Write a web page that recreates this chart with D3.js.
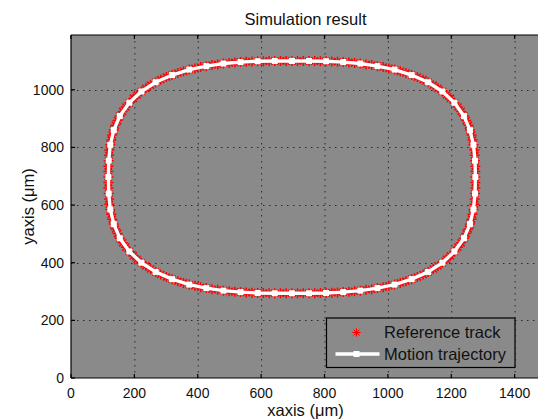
<!DOCTYPE html>
<html>
<head>
<meta charset="utf-8">
<script src="https://cdn.jsdelivr.net/npm/d3@7"></script>
<style>
  body { margin: 0; background: #fff; }
  text { font-family: "Liberation Sans", Arial, Helvetica, sans-serif; fill: #111; }
</style>
</head>
<body>
<svg id="chart" width="538" height="420"></svg>
<script>
// reference track (red asterisks), in um, clockwise from the top
let refX = [697, 715, 733, 751, 769, 787, 805, 823, 841, 859, 877, 895, 913, 931, 949, 967, 985, 1003, 1021, 1039, 1057, 1075, 1093, 1111, 1127, 1143, 1158, 1172, 1185, 1197, 1210, 1221, 1231, 1240, 1247, 1254, 1259, 1264, 1267, 1270, 1273, 1274, 1275, 1276, 1276,
    1276, 1276, 1276, 1275, 1274, 1273, 1270, 1267, 1264, 1259, 1254, 1247, 1240, 1231, 1221, 1210, 1197, 1185, 1172, 1158, 1143, 1127, 1111, 1093, 1075, 1057, 1039, 1021, 1003, 985, 967, 949, 931, 913, 895, 877, 859, 841, 823, 805, 787, 769, 751, 733, 715,
    697, 679, 661, 643, 625, 607, 589, 571, 553, 535, 517, 499, 481, 463, 445, 427, 409, 391, 373, 355, 337, 319, 301, 283, 267, 251, 236, 222, 209, 197, 184, 173, 163, 154, 147, 140, 135, 130, 127, 124, 121, 120, 119, 118, 118,
    118, 118, 118, 119, 120, 121, 124, 127, 130, 135, 140, 147, 154, 163, 173, 184, 197, 209, 222, 236, 251, 267, 283, 301, 319, 337, 355, 373, 391, 409, 427, 445, 463, 481, 499, 517, 535, 553, 571, 589, 607, 625, 643, 661, 679]
let refY = [1100, 1100, 1100, 1100, 1100, 1099, 1099, 1098, 1097, 1096, 1095, 1093, 1091, 1088, 1086, 1082, 1079, 1074, 1070, 1064, 1058, 1051, 1044, 1035, 1026, 1016, 1005, 994, 982, 970, 955, 940, 925, 909, 893, 877, 860, 843, 826, 809, 791, 773, 754, 735, 716,
    697, 678, 659, 640, 621, 603, 585, 568, 551, 534, 517, 501, 485, 469, 454, 439, 424, 412, 400, 389, 378, 368, 359, 350, 343, 336, 330, 324, 320, 315, 312, 308, 306, 303, 301, 299, 298, 297, 296, 295, 295, 294, 294, 294, 294,
    294, 294, 294, 294, 294, 295, 295, 296, 297, 298, 299, 301, 303, 306, 308, 312, 315, 320, 324, 330, 336, 343, 350, 359, 368, 378, 389, 400, 412, 424, 439, 454, 469, 485, 501, 517, 534, 551, 568, 585, 603, 621, 640, 659, 678,
    697, 716, 735, 754, 773, 791, 809, 826, 843, 860, 877, 893, 909, 925, 940, 955, 970, 982, 994, 1005, 1016, 1026, 1035, 1044, 1051, 1058, 1064, 1070, 1074, 1079, 1082, 1086, 1088, 1091, 1093, 1095, 1096, 1097, 1098, 1099, 1099, 1100, 1100, 1100, 1100]

// simulated motion trajectory (white line with square markers)
let trajX = [697, 751, 805, 859, 913, 967, 1021, 1075, 1127, 1172, 1210, 1240, 1259, 1270, 1275,
    1276, 1275, 1270, 1259, 1240, 1210, 1172, 1127, 1075, 1021, 967, 913, 859, 805, 751,
    697, 643, 589, 535, 481, 427, 373, 319, 267, 222, 184, 154, 135, 124, 119,
    118, 119, 124, 135, 154, 184, 222, 267, 319, 373, 427, 481, 535, 589, 643, 697]
let trajY = [1100, 1100, 1099, 1096, 1091, 1082, 1070, 1051, 1026, 994, 955, 909, 860, 809, 754,
    697, 640, 585, 534, 485, 439, 400, 368, 343, 324, 312, 303, 298, 295, 294,
    294, 294, 295, 298, 303, 312, 324, 343, 368, 400, 439, 485, 534, 585, 640,
    697, 754, 809, 860, 909, 955, 994, 1026, 1051, 1070, 1082, 1091, 1096, 1099, 1100, 1100]

let xTicks = [0, 200, 400, 600, 800, 1000, 1200, 1400]
let yTicks = [0, 200, 400, 600, 800, 1000]
let legendLabels = ["Reference track", "Motion trajectory"]

let svg = d3.select("#chart")

let margin = { top: 35, left: 71 }
let width = 469
let height = 343
let bg = "#8a8a8a"

let xScale = d3.scaleLinear()
    .domain([0, 1480])
    .range([0, width])

let yScale = d3.scaleLinear()
    .domain([0, 1190])
    .range([height, 0])

svg.append("defs").append("clipPath")
    .attr("id", "clip")
  .append("rect")
    .attr("width", width)
    .attr("height", height)

let g = svg.append("g")
    .attr("transform", "translate(" + margin.left + "," + margin.top + ")")

g.append("rect")
    .attr("width", width)
    .attr("height", height)
    .style("fill", bg)

// dotted grid
let grid = g.append("g").attr("clip-path", "url(#clip)")
grid.selectAll(".vgrid")
    .data(xTicks.slice(1))
    .enter().append("line")
        .attr("x1", d => xScale(d) + 0.5)
        .attr("x2", d => xScale(d) + 0.5)
        .attr("y1", 0)
        .attr("y2", height)
        .style("stroke", "#2a2a2a")
        .style("stroke-width", 1)
        .style("stroke-dasharray", "1.5,4.5")
grid.selectAll(".hgrid")
    .data(yTicks.slice(1))
    .enter().append("line")
        .attr("x1", 0)
        .attr("x2", width)
        .attr("y1", d => Math.round(yScale(d)) + 0.5)
        .attr("y2", d => Math.round(yScale(d)) + 0.5)
        .style("stroke", "#2a2a2a")
        .style("stroke-width", 1)
        .style("stroke-dasharray", "1.5,4.5")

// asterisk marker = plus + cross
function asterisk(r) {
    let k = r * 0.7071
    return "M" + (-r) + ",0H" + r + "M0," + (-r) + "V" + r +
        "M" + (-k) + "," + (-k) + "L" + k + "," + k +
        "M" + (-k) + "," + k + "L" + k + "," + (-k)
}

let plot = g.append("g").attr("clip-path", "url(#clip)")

plot.selectAll(".ref")
    .data(refX.map((x, i) => ({ x: x, y: refY[i] })))
    .enter().append("path")
        .attr("transform", d => "translate(" + xScale(d.x) + "," + yScale(d.y) + ")")
        .attr("d", asterisk(5))
        .style("fill", "none")
        .style("stroke", "#ff0000")
        .style("stroke-width", 1.5)

let traj = trajX.map((x, i) => ({ x: x, y: trajY[i] }))

plot.append("path")
    .datum(traj)
    .attr("d", d3.line().x(d => xScale(d.x)).y(d => yScale(d.y)))
    .style("fill", "none")
    .style("stroke", "#fff")
    .style("stroke-width", 3.4)
    .style("stroke-linejoin", "round")

plot.selectAll(".sq")
    .data(traj)
    .enter().append("rect")
        .attr("x", d => xScale(d.x) - 3)
        .attr("y", d => yScale(d.y) - 3)
        .attr("width", 6)
        .attr("height", 6)
        .style("fill", "#fff")

// frame and inward ticks
let frame = g.append("g").style("stroke", "#000").style("stroke-width", 1.2)
frame.append("line").attr("x1", 0).attr("x2", 0).attr("y1", 0).attr("y2", height)
frame.append("line").attr("x1", 0).attr("x2", width).attr("y1", 0).attr("y2", 0)
frame.append("line").attr("x1", 0).attr("x2", width).attr("y1", height).attr("y2", height)

frame.selectAll(".xt")
    .data(xTicks)
    .enter().append("line")
        .attr("x1", d => xScale(d)).attr("x2", d => xScale(d))
        .attr("y1", height).attr("y2", height - 4)
frame.selectAll(".xtt")
    .data(xTicks)
    .enter().append("line")
        .attr("x1", d => xScale(d)).attr("x2", d => xScale(d))
        .attr("y1", 0).attr("y2", 4)
frame.selectAll(".yt")
    .data(yTicks)
    .enter().append("line")
        .attr("x1", 0).attr("x2", 4)
        .attr("y1", d => yScale(d)).attr("y2", d => yScale(d))

g.selectAll(".xlab")
    .data(xTicks)
    .enter().append("text")
        .attr("x", d => xScale(d))
        .attr("y", height + 20)
        .style("text-anchor", "middle")
        .style("font-size", "14px")
        .text(d => d)

g.selectAll(".ylab")
    .data(yTicks)
    .enter().append("text")
        .attr("x", -7)
        .attr("y", d => yScale(d) + 5)
        .style("text-anchor", "end")
        .style("font-size", "14px")
        .text(d => d)

svg.append("text")
    .attr("x", margin.left + width / 2)
    .attr("y", 24.5)
    .style("text-anchor", "middle")
    .style("font-size", "16.5px")
    .text("Simulation result")

svg.append("text")
    .attr("x", margin.left + width / 2)
    .attr("y", 416)
    .style("text-anchor", "middle")
    .style("font-size", "16.5px")
    .text("xaxis (μm)")

svg.append("text")
    .attr("transform", "rotate(-90)")
    .attr("x", -(margin.top + height / 2))
    .attr("y", 34)
    .style("text-anchor", "middle")
    .style("font-size", "16.5px")
    .text("yaxis (μm)")

// legend
let lg = svg.append("g").attr("transform", "translate(326.5,318)")
lg.append("rect")
    .attr("width", 188.5)
    .attr("height", 49.5)
    .style("fill", bg)
    .style("stroke", "#000")
    .style("stroke-width", 1.2)
lg.append("path")
    .attr("transform", "translate(30,14.5)")
    .attr("d", asterisk(4.2))
    .style("fill", "none")
    .style("stroke", "#ff0000")
    .style("stroke-width", 1)
lg.append("line")
    .attr("x1", 9).attr("x2", 53)
    .attr("y1", 36).attr("y2", 36)
    .style("stroke", "#fff")
    .style("stroke-width", 3.6)
lg.append("rect")
    .attr("x", 27).attr("y", 33)
    .attr("width", 6).attr("height", 6)
    .style("fill", "#fff")
lg.selectAll(".lt")
    .data(legendLabels)
    .enter().append("text")
        .attr("x", 57.5)
        .attr("y", (d, i) => 20 + i * 21.5)
        .style("font-size", "16.5px")
        .text(d => d)
</script>
</body>
</html>
